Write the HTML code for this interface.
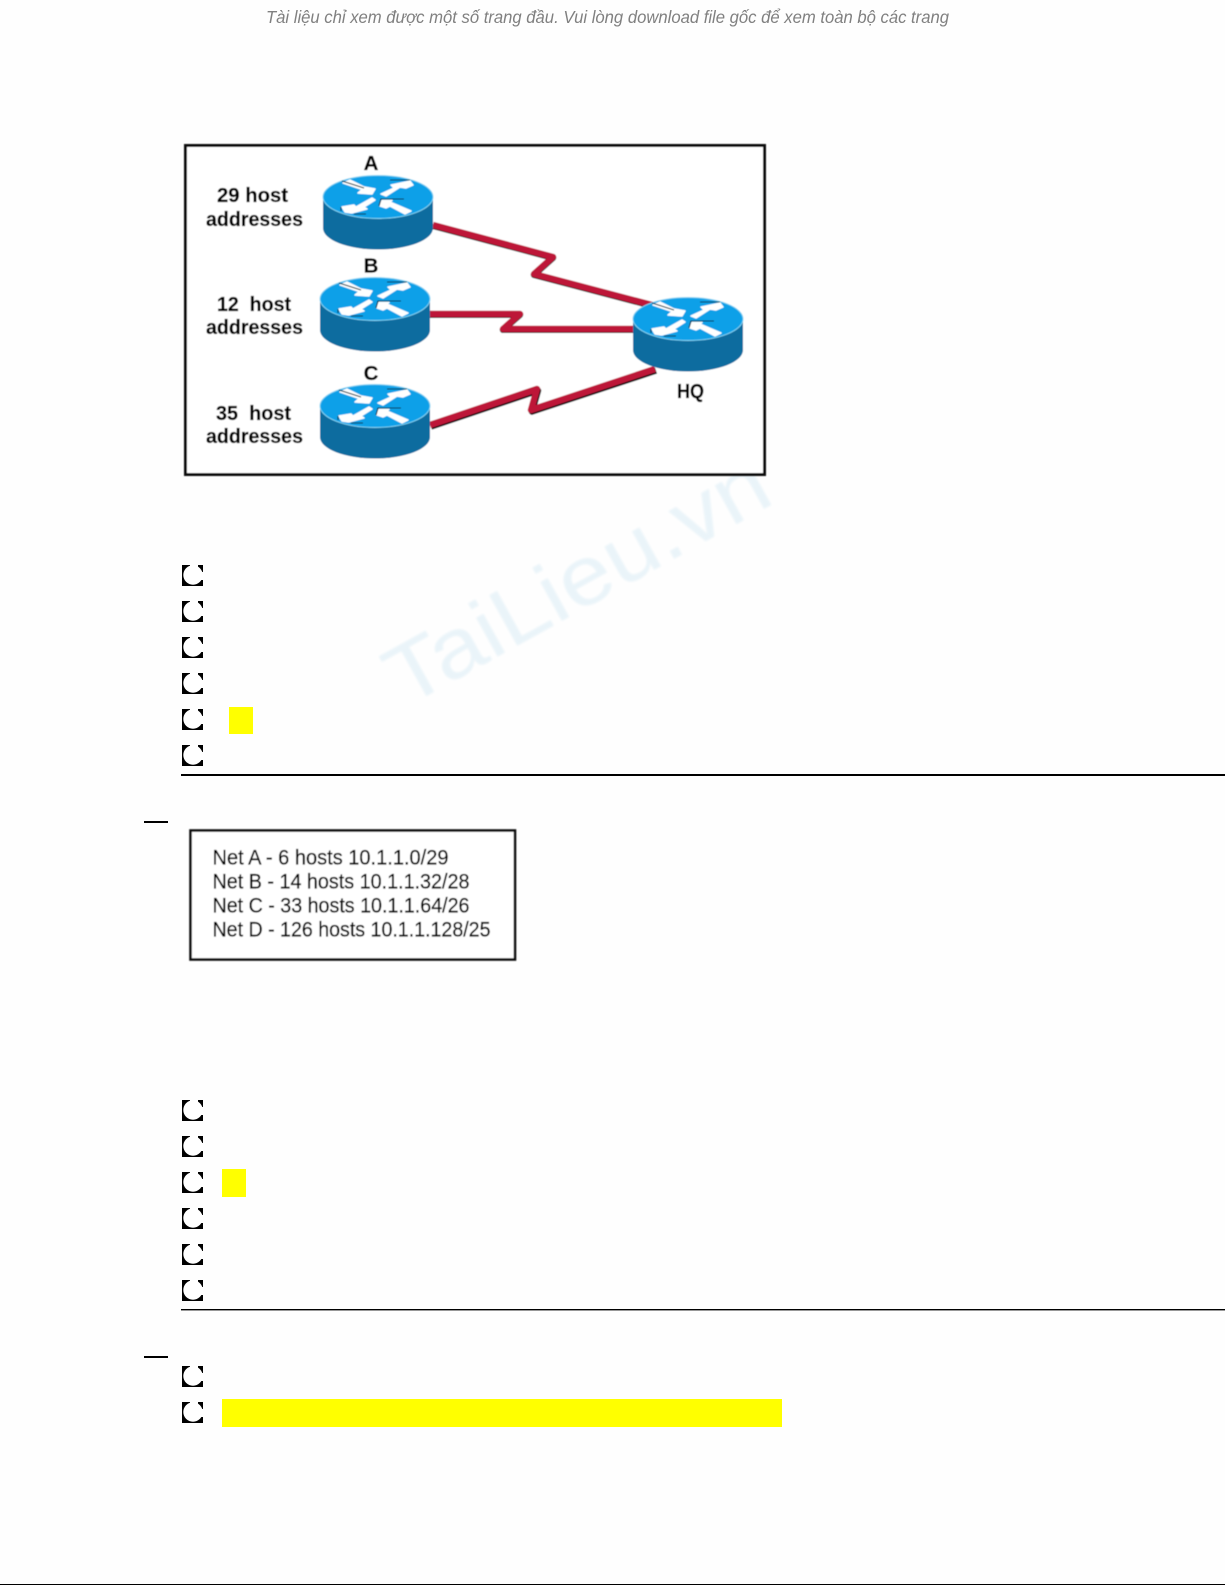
<!DOCTYPE html>
<html>
<head>
<meta charset="utf-8">
<style>
html,body{margin:0;padding:0;background:#fefefe;width:1225px;height:1585px;overflow:hidden}
svg{display:block}
.lab{font-family:"Liberation Sans",sans-serif;font-weight:700;font-size:20.5px;fill:#000;stroke:#000;stroke-width:.25px}
.net{font-family:"Liberation Sans",sans-serif;font-size:21.5px;fill:#000;stroke:#000;stroke-width:.3px}
</style>
</head>
<body>
<svg width="1225" height="1585" viewBox="0 0 1225 1585" xmlns="http://www.w3.org/2000/svg">
<defs>
<filter id="b" x="-5%" y="-5%" width="110%" height="110%"><feGaussianBlur stdDeviation="0.4"/></filter>
<filter id="h" x="-5%" y="-50%" width="110%" height="200%"><feGaussianBlur stdDeviation="0.35"/></filter>
<filter id="w" x="-5%" y="-5%" width="110%" height="110%"><feGaussianBlur stdDeviation="1"/></filter>
<g id="router">
  <path d="M-55 0V31A55 21.5 0 0 0 55 31V0Z" fill="#0c6c9f"/>
  <ellipse cx="0" cy="0" rx="55" ry="21.5" fill="#0fa0e8" stroke="#7fd2f2" stroke-width="1"/>
  <g fill="#fff" stroke="#fff" stroke-width="1.4" stroke-linejoin="round">
    <polygon points="-35,-14 -28,-17 -14,-10 -3,-8 -6,-3 -20,-4 -16,-7.5"/>
    <polygon points="3,-3 16,-9 13,-12 32,-16 35,-12 28,-9 22,-10 8,-1"/>
    <polygon points="-36,10 -24,8 -22,10 -6,1 -3,3 -14,10 -11,12 -26,16 -33,15"/>
    <polygon points="2,9 4,3.5 14,3.5 12,5 33,14 27,17 12,9 8,11"/>
  </g>
  <path d="M-36 -16L-14 -9M12 -17H32M-37 10V14M-24 17H-12M1 9L3 2H26" fill="none" stroke="#0a2436" stroke-width="1.1"/>
</g>
<g id="cb">
  <rect width="21" height="21" fill="#000"/>
  <circle cx="11" cy="10" r="9.7" fill="#fff"/>
  <rect x="8" y="0" width="8" height="3" fill="#fff"/>
  <rect x="18" y="7" width="3" height="8" fill="#fff"/>
</g>
</defs>

<rect width="1225" height="1585" fill="#fefefe"/>

<g filter="url(#h)">
<text x="266" y="23" textLength="683" lengthAdjust="spacingAndGlyphs" font-family="'Liberation Sans',sans-serif" font-style="italic" font-size="17.5" fill="#808080">Tài liệu chỉ xem được một số trang đầu. Vui lòng download file gốc để xem toàn bộ các trang</text>
</g>

<g filter="url(#w)">
<text transform="translate(405,708) rotate(-29)" textLength="425" lengthAdjust="spacingAndGlyphs" font-family="'Liberation Sans',sans-serif" font-size="84" fill="#eaf4f9">TaiLieu.vn</text>
</g>

<g filter="url(#b)">
  <rect x="185.5" y="145.5" width="579" height="329" fill="#fff" stroke="#111" stroke-width="3"/>

  <g fill="none" stroke-linejoin="round">
    <polyline points="433,225 553,257 534,274 652,305" stroke="#111" stroke-width="6.5" transform="translate(0,.8)"/>
    <polyline points="433,225 553,257 534,274 652,305" stroke="#bd1238" stroke-width="6.5"/>
    <polyline points="430,314 520,314 503,329 634,329" stroke="#111" stroke-width="6.5" transform="translate(0,.8)"/>
    <polyline points="430,314 520,314 503,329 634,329" stroke="#bd1238" stroke-width="6.5"/>
    <polyline points="430,425 537,389 531,410 655,369" stroke="#111" stroke-width="6.5" transform="translate(1,1.6)"/>
    <polyline points="430,425 537,389 531,410 655,369" stroke="#bd1238" stroke-width="6.5"/>
  </g>

  <use href="#router" x="378" y="197"/>
  <use href="#router" x="375" y="299"/>
  <use href="#router" x="375" y="406"/>
  <use href="#router" x="688" y="319"/>

  <text class="lab" x="371" y="170" text-anchor="middle">A</text>
  <text class="lab" x="371" y="272.5" text-anchor="middle">B</text>
  <text class="lab" x="371" y="380" text-anchor="middle">C</text>
  <text class="lab" x="677" y="398" textLength="27" lengthAdjust="spacingAndGlyphs">HQ</text>

  <text class="lab" x="217" y="202" textLength="71" lengthAdjust="spacingAndGlyphs">29 host</text>
  <text class="lab" x="206" y="226" textLength="97" lengthAdjust="spacingAndGlyphs">addresses</text>
  <text class="lab" x="217" y="311" textLength="74" lengthAdjust="spacingAndGlyphs" xml:space="preserve">12  host</text>
  <text class="lab" x="206" y="334" textLength="97" lengthAdjust="spacingAndGlyphs">addresses</text>
  <text class="lab" x="216" y="420" textLength="75" lengthAdjust="spacingAndGlyphs" xml:space="preserve">35  host</text>
  <text class="lab" x="206" y="443" textLength="97" lengthAdjust="spacingAndGlyphs">addresses</text>

  <rect x="190.5" y="830.5" width="324.5" height="129" fill="#fff" stroke="#111" stroke-width="2.6"/>
  <text class="net" x="212.5" y="864.5" textLength="236" lengthAdjust="spacingAndGlyphs">Net A - 6 hosts 10.1.1.0/29</text>
  <text class="net" x="212.5" y="888.5" textLength="257" lengthAdjust="spacingAndGlyphs">Net B - 14 hosts 10.1.1.32/28</text>
  <text class="net" x="212.5" y="912.5" textLength="257" lengthAdjust="spacingAndGlyphs">Net C - 33 hosts 10.1.1.64/26</text>
  <text class="net" x="212.5" y="936.5" textLength="278" lengthAdjust="spacingAndGlyphs">Net D - 126 hosts 10.1.1.128/25</text>
</g>

<use href="#cb" x="182" y="565"/>
<use href="#cb" x="182" y="601"/>
<use href="#cb" x="182" y="637"/>
<use href="#cb" x="182" y="673"/>
<use href="#cb" x="182" y="709"/>
<use href="#cb" x="182" y="745"/>
<rect x="229" y="707" width="24" height="27" fill="#ffff00"/>
<rect x="181" y="774" width="1044" height="2" fill="#000"/>
<rect x="144" y="821" width="24" height="2" fill="#000"/>

<use href="#cb" x="182" y="1100"/>
<use href="#cb" x="182" y="1136"/>
<use href="#cb" x="182" y="1172"/>
<use href="#cb" x="182" y="1208"/>
<use href="#cb" x="182" y="1244"/>
<use href="#cb" x="182" y="1280"/>
<rect x="222" y="1169" width="24" height="28" fill="#ffff00"/>
<rect x="181" y="1309" width="1044" height="1.4" fill="#000"/>
<rect x="144" y="1356" width="24" height="2" fill="#000"/>

<use href="#cb" x="182" y="1366"/>
<use href="#cb" x="182" y="1402"/>
<rect x="222" y="1399" width="560" height="28" fill="#ffff00"/>

<rect x="0" y="1584" width="1225" height="1" fill="#000"/>
</svg>
</body>
</html>
